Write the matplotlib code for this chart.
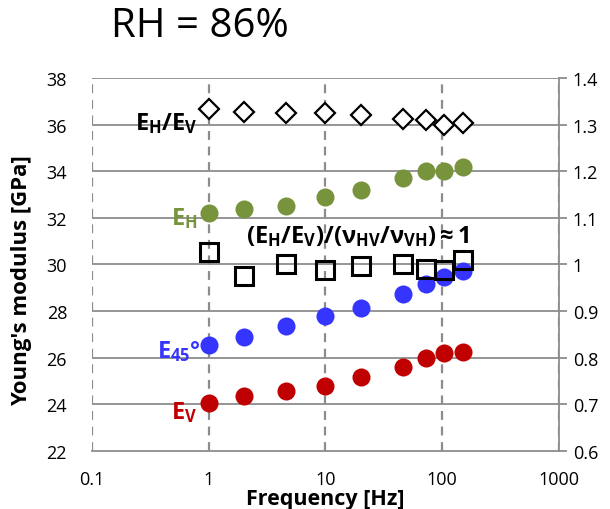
import matplotlib.pyplot as plt
import matplotlib.ticker as mticker

plt.rcParams['font.family'] = ['Open Sans', 'DejaVu Sans']
plt.rcParams['mathtext.fontset'] = 'custom'
plt.rcParams['mathtext.rm'] = 'Open Sans'
plt.rcParams['mathtext.bf'] = 'Open Sans:bold'
plt.rcParams['mathtext.it'] = 'Open Sans:italic'

# frequencies [Hz]
freq = [1, 2, 4.6, 10, 20, 46, 73, 104, 152]

# moduli [GPa] (left axis)
E_H = [32.2, 32.4, 32.5, 32.9, 33.2, 33.7, 34.0, 34.0, 34.2]
E_45 = [26.55, 26.88, 27.34, 27.8, 28.13, 28.73, 29.16, 29.46, 29.7]
E_V = [24.07, 24.36, 24.55, 24.77, 25.16, 25.61, 25.98, 26.18, 26.25]

# ratios (right axis)
ratio_E = [1.333, 1.328, 1.326, 1.325, 1.320, 1.313, 1.309, 1.299, 1.304]
ratio_nu = [1.026, 0.976, 1.0, 0.989, 0.996, 1.0, 0.991, 0.988, 1.009]

green = '#77933C'
blue = '#3535FF'
red = '#C00000'
grey = '#8C8C8C'

fig = plt.figure(figsize=(6.1, 5.1), dpi=100)
ax = fig.add_axes([0.151, 0.114, 0.765, 0.731])
ax2 = ax.twinx()

ax.set_xscale('log')
ax.set_xlim(0.1, 1000)
ax.set_ylim(22, 38)
ax.set_yticks(range(22, 39, 2))
ax.xaxis.set_major_formatter(mticker.FuncFormatter(lambda v, p: f'{v:g}'))
ax.xaxis.set_minor_locator(mticker.NullLocator())

# grid
for y in range(24, 39, 2):
    ax.axhline(y, color=grey, lw=1.3, zorder=0)
for x in [0.1, 1, 10, 100, 1000]:
    ax.axvline(x, color=grey, lw=1.6, ls=(0, (4, 3)), zorder=0)

for s in ['left', 'top', 'right']:
    ax.spines[s].set_visible(False)
ax.spines['bottom'].set_color(grey)
ax.spines['bottom'].set_linewidth(1.3)
for s in ['left', 'top', 'bottom']:
    ax2.spines[s].set_visible(False)
ax2.spines['right'].set_color(grey)
ax2.spines['right'].set_linewidth(1.3)

ax.tick_params(axis='y', length=0, labelsize=13, pad=18)
ax.tick_params(axis='x', length=0, labelsize=13, pad=14)
ax2.tick_params(axis='y', length=6, color=grey, width=1.3, labelsize=13, pad=4)

ax.plot(freq, E_H, 'o', color=green, ms=13, mec='none', zorder=3)
ax.plot(freq, E_45, 'o', color=blue, ms=13, mec='none', zorder=3)
ax.plot(freq, E_V, 'o', color=red, ms=13, mec='none', zorder=3)

ax2.set_ylim(0.6, 1.4)
r_ticks = [0.6, 0.7, 0.8, 0.9, 1.0, 1.1, 1.2, 1.3, 1.4]
ax2.set_yticks(r_ticks)
ax2.set_yticklabels([f'{t:g}' for t in r_ticks])
ax2.plot(freq, ratio_E, 'D', ms=10, mfc='white', mec='black', mew=1.6, zorder=4)
ax2.plot(freq, ratio_nu, 's', ms=13, mfc='none', mec='black', mew=2.2, zorder=4)

ax.set_xlabel('Frequency [Hz]', fontsize=15.5, fontweight='bold')
ax.xaxis.set_label_coords(0.5, -0.099)
ax.set_ylabel("Young's modulus [GPa]", fontsize=16, fontweight='bold')
ax.yaxis.set_label_coords(-0.128, 0.46)

fs = 17
ax.text(0.8, 36.1, r'$\mathbf{E_H/E_V}$', color='black', fontsize=fs, ha='right', va='center')
ax.text(0.8, 32.0, r'$\mathbf{E_H}$', color=green, fontsize=fs, ha='right', va='center')
ax.text(19, 31.25, r'$\mathbf{(E_H/E_V)/(\nu_{HV}/\nu_{VH}) \approx 1}$', color='black',
        fontsize=fs, ha='center', va='center')
ax.text(0.86, 26.3, r'$\mathbf{E_{45}}$°', color=blue, fontsize=fs, ha='right', va='center',
        fontweight='bold')
ax.text(0.8, 23.7, r'$\mathbf{E_V}$', color=red, fontsize=fs, ha='right', va='center')

fig.text(0.328, 0.948, 'RH = 86%', fontsize=29, ha='center', va='center')

fig.savefig('out.png', dpi=100)
